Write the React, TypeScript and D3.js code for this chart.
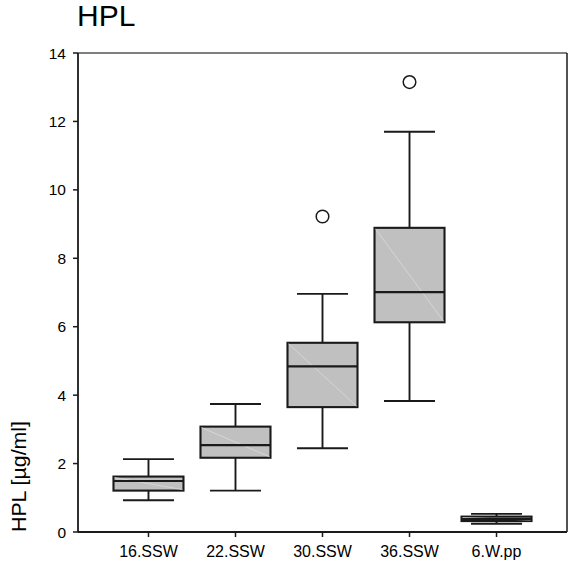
import React from "react";
import * as d3 from "d3";

const categories = ["16.SSW", "22.SSW", "30.SSW", "36.SSW", "6.W.pp"];
const whiskerLow = [0.93, 1.21, 2.45, 3.83, 0.24];
const q1Values = [1.21, 2.17, 3.65, 6.13, 0.32];
const medianValues = [1.49, 2.54, 4.84, 7.01, 0.38];
const q3Values = [1.62, 3.08, 5.53, 8.89, 0.45];
const whiskerHigh = [2.13, 3.74, 6.96, 11.7, 0.53];
const outliers: [string, number][] = [
  ["30.SSW", 9.22],
  ["36.SSW", 13.15],
];
const yTicks = [0, 2, 4, 6, 8, 10, 12, 14];

const W = 568;
const H = 566;
const left = 78;
const right = 567;
const top = 53;
const bottom = 532;
const font = "'Liberation Sans', Arial, Helvetica, sans-serif";
const ink = "#1a1a1a";

export default function App() {
  const y = d3.scaleLinear().domain([0, 14]).range([bottom, top]);
  const x = d3.scalePoint<string>().domain(categories).range([left, right]).padding(0.81);
  const boxW = 70;
  const capW = 51;

  return (
    <svg
      width={W}
      height={H}
      style={{ position: "absolute", left: 0, top: 0, background: "#fff" }}
      fontFamily={font}
    >
      <rect x={0} y={0} width={W} height={H} fill="#fff" />
      <text x={77} y={26} fontSize={30} fill="#000">HPL</text>

      {/* frame */}
      <line x1={left} x2={right} y1={top} y2={top} stroke="#555" strokeWidth={1.5} />
      <line x1={right} x2={right} y1={top} y2={bottom} stroke={ink} strokeWidth={1.5} />
      <line x1={left} x2={left} y1={top} y2={bottom} stroke={ink} strokeWidth={1.8} />
      <line x1={left} x2={right} y1={bottom} y2={bottom} stroke={ink} strokeWidth={1.8} />

      {/* y ticks */}
      {yTicks.map((t) => (
        <g key={t}>
          <line x1={left - 5} x2={left} y1={y(t)} y2={y(t)} stroke={ink} strokeWidth={1.5} />
          <text x={66} y={y(t)} dy="0.36em" textAnchor="end" fontSize={15.5} fill="#000">
            {t}
          </text>
        </g>
      ))}

      {/* x ticks */}
      {categories.map((c) => (
        <g key={c}>
          <line x1={x(c)} x2={x(c)} y1={bottom} y2={bottom + 5} stroke={ink} strokeWidth={1.5} />
          <text x={x(c)} y={557} textAnchor="middle" fontSize={16} fill="#000">
            {c}
          </text>
        </g>
      ))}

      {/* y label */}
      <text
        transform={`translate(26, ${bottom}) rotate(-90)`}
        fontSize={19.5}
        textLength={111}
        lengthAdjust="spacingAndGlyphs"
        fill="#000"
      >
        HPL [µg/ml]
      </text>

      {/* boxes */}
      {categories.map((c, i) => {
        const cx = x(c) as number;
        const yq1 = y(q1Values[i]);
        const yq3 = y(q3Values[i]);
        return (
          <g key={c} stroke={ink} strokeWidth={1.9}>
            <line x1={cx} x2={cx} y1={y(whiskerHigh[i])} y2={yq3} />
            <line x1={cx} x2={cx} y1={yq1} y2={y(whiskerLow[i])} />
            <line x1={cx - capW / 2} x2={cx + capW / 2} y1={y(whiskerHigh[i])} y2={y(whiskerHigh[i])} />
            <line x1={cx - capW / 2} x2={cx + capW / 2} y1={y(whiskerLow[i])} y2={y(whiskerLow[i])} />
            <rect x={cx - boxW / 2} y={yq3} width={boxW} height={yq1 - yq3} fill="#c0c0c0" strokeWidth={2.1} />
            <line
              x1={cx - boxW / 2 + 1}
              y1={yq3 + 1}
              x2={cx + boxW / 2 - 1}
              y2={yq1 - 1}
              stroke="#dadada"
              strokeWidth={0.8}
            />
            <line x1={cx - boxW / 2} x2={cx + boxW / 2} y1={y(medianValues[i])} y2={y(medianValues[i])} strokeWidth={2.1} />
          </g>
        );
      })}

      {/* outliers */}
      {outliers.map(([c, v]) => (
        <circle key={c} cx={x(c)} cy={y(v)} r={6.3} fill="#fff" stroke={ink} strokeWidth={1.5} />
      ))}
    </svg>
  );
}
